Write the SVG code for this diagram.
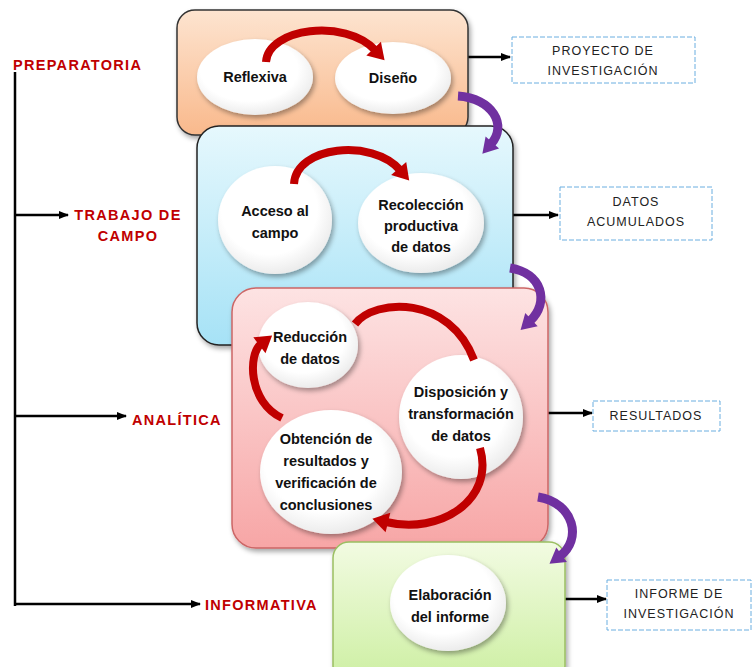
<svg xmlns="http://www.w3.org/2000/svg" width="752" height="667" viewBox="0 0 752 667">
<defs>
<linearGradient id="gOr" x1="0" y1="0" x2="0" y2="1"><stop offset="0" stop-color="#fde4d0"/><stop offset="1" stop-color="#f9b98c"/></linearGradient>
<linearGradient id="gBl" x1="0" y1="0" x2="0" y2="1"><stop offset="0" stop-color="#e6f8fd"/><stop offset="1" stop-color="#a6e2f6"/></linearGradient>
<linearGradient id="gPk" x1="0" y1="0" x2="0" y2="1"><stop offset="0" stop-color="#fde3e3"/><stop offset="1" stop-color="#f7a6a6"/></linearGradient>
<linearGradient id="gGr" x1="0" y1="0" x2="0" y2="1"><stop offset="0" stop-color="#f2fbe2"/><stop offset="1" stop-color="#cdefa2"/></linearGradient>
<radialGradient id="gEl" cx="0.45" cy="0.4" r="0.6"><stop offset="0.7" stop-color="#ffffff"/><stop offset="1" stop-color="#ececec"/></radialGradient>
<filter id="sh" x="-20%" y="-20%" width="140%" height="140%"><feDropShadow dx="2" dy="3" stdDeviation="2.5" flood-color="#000" flood-opacity="0.35"/></filter>
<marker id="mRed" markerUnits="userSpaceOnUse" markerWidth="24" markerHeight="24" refX="4" refY="12" orient="auto"><path d="M2,2 L18,12 L2,22 Z" fill="#c00000"/></marker>
<marker id="mPur" markerUnits="userSpaceOnUse" markerWidth="24" markerHeight="24" refX="4" refY="12" orient="auto"><path d="M2,3 L17,12 L2,21 Z" fill="#7030a0"/></marker>
<marker id="mBlk" markerUnits="userSpaceOnUse" markerWidth="10" markerHeight="10" refX="9" refY="5" orient="auto"><path d="M0,1 L10,5 L0,9 Z" fill="#000"/></marker>
<style>
.box{stroke-width:1.5;filter:url(#sh)}
.el{fill:url(#gEl);filter:url(#sh)}
.t{font-family:"Liberation Sans",Arial,sans-serif;font-weight:bold;font-size:14.5px;fill:#111;text-anchor:middle}
.ph{font-family:"Liberation Sans",Arial,sans-serif;font-weight:bold;font-size:14.5px;fill:#c00000;letter-spacing:1.3px}
.out{font-family:"Liberation Sans",Arial,sans-serif;font-size:12.5px;fill:#222;text-anchor:middle;letter-spacing:1px}
.ob{fill:#fff;stroke:#6aaee0;stroke-width:1;stroke-dasharray:5,2}
.red{fill:none;stroke:#c00000;stroke-width:8;marker-end:url(#mRed)}
.red0{fill:none;stroke:#c00000;stroke-width:8}
.pur{fill:none;stroke:#7030a0;stroke-width:9;marker-end:url(#mPur)}
.ln{fill:none;stroke:#000;stroke-width:2.5}
.ar{fill:none;stroke:#000;stroke-width:2.5;marker-end:url(#mBlk)}
</style>
</defs>
<rect width="752" height="667" fill="#ffffff"/>

<g id="timeline">
<path class="ln" d="M15,72 V606"/>
<path class="ar" d="M15,215 H68"/>
<path class="ar" d="M15,416 H126"/>
<path class="ar" d="M15,604 H200"/>
<text class="ph" x="13" y="70">PREPARATORIA</text>
<text class="ph" x="128" y="220" text-anchor="middle">TRABAJO DE</text>
<text class="ph" x="128" y="241" text-anchor="middle">CAMPO</text>
<text class="ph" x="132" y="425">ANALÍTICA</text>
<text class="ph" x="205" y="610">INFORMATIVA</text>
</g>

<g id="connectors">
<path class="ar" d="M468,57 H510"/>
<path class="ar" d="M513,215 H558"/>
<path class="ar" d="M548,413 H592"/>
<path class="ar" d="M565,599 H606"/>
</g>

<g id="preparatoria">
<rect class="box" x="177" y="10" width="291" height="125" rx="18" fill="url(#gOr)" stroke="#333"/>
<ellipse class="el" cx="255" cy="77" rx="58" ry="38"/>
<ellipse class="el" cx="393" cy="78" rx="58" ry="36"/>
<path class="red" d="M266,62 C268,28 345,18 375,50"/>
<text class="t" x="255" y="82">Reflexiva</text>
<text class="t" x="393" y="83">Diseño</text>
</g>

<g id="trabajo">
<rect class="box" x="197" y="126" width="316" height="219" rx="22" fill="url(#gBl)" stroke="#222"/>
<ellipse class="el" cx="275" cy="220" rx="57" ry="54"/>
<ellipse class="el" cx="421" cy="223" rx="63" ry="50"/>
<path class="red" d="M294,184 C296,146 372,138 400,170"/>
<text class="t" x="275" y="216">Acceso al</text>
<text class="t" x="275" y="238">campo</text>
<text class="t" x="421" y="210">Recolección</text>
<text class="t" x="421" y="231">productiva</text>
<text class="t" x="421" y="252">de datos</text>
</g>

<g id="analitica">
<rect class="box" x="232" y="288" width="316" height="260" rx="24" fill="url(#gPk)" stroke="#c66"/>
<ellipse class="el" cx="308" cy="345" rx="50" ry="43"/>
<ellipse class="el" cx="461" cy="417" rx="62" ry="62"/>
<ellipse class="el" cx="331" cy="472" rx="71" ry="62"/>
<path class="red0" d="M355,324 C375,298 450,295 474,360"/>
<path class="red" d="M480,448 C495,500 440,535 386,522"/>
<path class="red" d="M282,418 C248,402 248,354 261,344"/>
<text class="t" x="310" y="342">Reducción</text>
<text class="t" x="310" y="364">de datos</text>
<text class="t" x="461" y="397">Disposición y</text>
<text class="t" x="461" y="419">transformación</text>
<text class="t" x="461" y="441">de datos</text>
<text class="t" x="326" y="444">Obtención de</text>
<text class="t" x="326" y="466">resultados y</text>
<text class="t" x="326" y="488">verificación de</text>
<text class="t" x="326" y="510">conclusiones</text>
</g>

<g id="informativa">
<rect class="box" x="333" y="542" width="232" height="140" rx="16" fill="url(#gGr)" stroke="#9bbf62"/>
<ellipse class="el" cx="448" cy="603" rx="58" ry="48"/>
<text class="t" x="450" y="600">Elaboración</text>
<text class="t" x="450" y="622">del informe</text>
</g>

<g id="transitions">
<path class="pur" d="M458,96 C492,98 508,125 491,144"/>
<path class="pur" d="M510,268 C542,273 550,302 530,321"/>
<path class="pur" d="M538,497 C575,503 582,540 560,556"/>
</g>

<g id="out-proyecto">
<rect class="ob" x="512" y="37" width="183" height="46"/>
<text class="out" x="603" y="55">PROYECTO DE</text>
<text class="out" x="603" y="75">INVESTIGACIÓN</text>
</g>
<g id="out-datos">
<rect class="ob" x="560" y="187" width="152" height="53"/>
<text class="out" x="636" y="206">DATOS</text>
<text class="out" x="636" y="226">ACUMULADOS</text>
</g>
<g id="out-resultados">
<rect class="ob" x="593" y="401" width="127" height="30"/>
<text class="out" x="656" y="420">RESULTADOS</text>
</g>
<g id="out-informe">
<rect class="ob" x="607" y="580" width="144" height="50"/>
<text class="out" x="679" y="598">INFORME DE</text>
<text class="out" x="679" y="618">INVESTIGACIÓN</text>
</g>
</svg>
